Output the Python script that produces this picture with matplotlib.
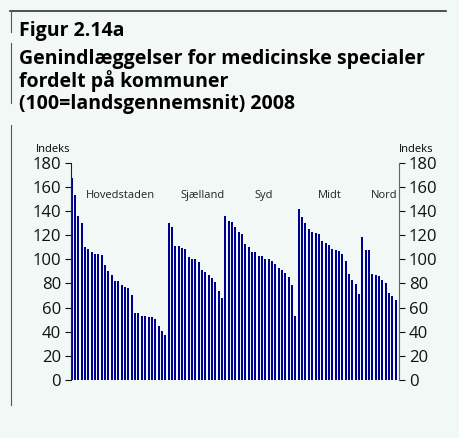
import matplotlib.pyplot as plt
from matplotlib.lines import Line2D

# Indeks pr. kommune, sorteret inden for hver region
hovedstaden = [167, 153, 136, 130, 110, 108.5, 106, 104, 104, 103.5, 95, 90, 87, 82, 82,
               79, 77, 76, 70, 55.5, 55.5, 53, 53, 52, 52, 50.5, 45, 40.5, 37]
sjaelland = [130, 127, 111, 111, 109, 108.5, 102, 100, 100, 98, 91, 89.5, 87, 84.5, 81, 74, 68]
syd = [136, 132, 131, 127, 123, 121, 113, 110, 106, 106, 103, 103, 100, 100, 98.5, 96,
       93, 91, 88.6, 85, 78.7, 53]
midt = [141.6, 135, 130, 125, 123, 121.8, 121, 115, 113.5, 112, 108.5, 107.7, 106.8, 104,
        98.5, 87.8, 82.8, 79.5, 71]
nord = [118.4, 107.7, 107.7, 87.8, 87, 86, 82.8, 80.3, 72, 69.6, 66]

regions = ['Hovedstaden', 'Sjælland', 'Syd', 'Midt', 'Nord']
groups = [hovedstaden, sjaelland, syd, midt, nord]
label_x = [14.5, 39.1, 57.4, 77.3, 93.5]
yticks = [0, 20, 40, 60, 80, 100, 120, 140, 160, 180]
title_lines = ['Figur 2.14a',
               'Genindlæggelser for medicinske specialer',
               'fordelt på kommuner',
               '(100=landsgennemsnit) 2008']

bg = '#f2f8f6'
font = 'Open Sans'
plt.rcParams['font.family'] = [font, 'DejaVu Sans']

fig = plt.figure(figsize=(4.59, 4.38), dpi=100)
fig.patch.set_facecolor(bg)

# ramme: linje øverst og til venstre
W, H = 459, 438
fig.add_artist(Line2D([10 / W, 446 / W], [1 - 11 / H, 1 - 11 / H], color='#333333', lw=1.2))
for y0, y1 in [(11, 32), (43, 103), (125, 405)]:
    fig.add_artist(Line2D([11 / W, 11 / W], [1 - y0 / H, 1 - y1 / H], color='#555555', lw=0.8))

# titel, en linje ad gangen
for line, yc in zip(title_lines, [31, 59, 81.5, 104]):
    fig.text(19 / W, 1 - yc / H, line, fontsize=14, fontweight='bold', va='center', ha='left')

ax = fig.add_axes([70.7 / W, 1 - 380 / H, (399 - 70.7) / W, (380 - 162.7) / H])
ax.set_facecolor(bg)

values = [v for g in groups for v in g]
ax.bar(range(len(values)), values, width=0.6, color='#000090')

for name, x in zip(regions, label_x):
    ax.text(x, 153, name, ha='center', va='center', fontsize=8, color='#222222')

ax.set_xlim(-0.3, 98)
ax.set_ylim(0, 180)
ax.set_xticks([])
ax.set_yticks(yticks)
ax.tick_params(axis='y', direction='out', length=4, labelsize=12, pad=3,
               right=True, labelright=True, colors='#111111')
for s in ['top', 'bottom']:
    ax.spines[s].set_visible(False)
ax.spines['left'].set_color('#222222')
ax.spines['right'].set_color('#666666')

ax.text(0, 1.035, 'Indeks', transform=ax.transAxes, ha='right', va='bottom', fontsize=8)
ax.text(1, 1.035, 'Indeks', transform=ax.transAxes, ha='left', va='bottom', fontsize=8)

fig.savefig('out.png', dpi=100, facecolor=bg)
